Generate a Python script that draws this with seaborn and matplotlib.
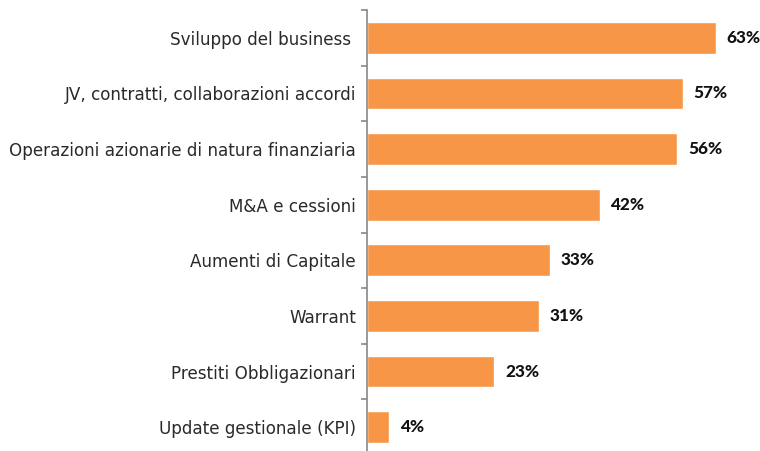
import matplotlib
matplotlib.use("Agg")
import matplotlib.pyplot as plt
import seaborn as sns
import pandas as pd
import numpy as np

categories = [
    "Sviluppo del business ",
    "JV, contratti, collaborazioni accordi",
    "Operazioni azionarie di natura finanziaria",
    "M&A e cessioni",
    "Aumenti di Capitale",
    "Warrant",
    "Prestiti Obbligazionari",
    "Update gestionale (KPI)",
]
values = [63, 57, 56, 42, 33, 31, 23, 4]

df = pd.DataFrame({"cat": categories, "val": values})

sns.set_style("white")
plt.rcParams["font.family"] = ["DejaVu Sans"]

fig = plt.figure(figsize=(7.6, 4.51), dpi=100)
ax = fig.add_axes([367 / 760, (451 - 455) / 451, 388 / 760, 445 / 451])

sns.barplot(data=df, x="val", y="cat", color="#F79646", saturation=1,
            width=0.57, ax=ax, orient="h")

ax.set_xlim(0, 70)
ax.set_ylim(len(categories) - 0.5, -0.5)
ax.set_xlabel("")
ax.set_ylabel("")
ax.set_xticks([])
for s in ["top", "right", "bottom"]:
    ax.spines[s].set_visible(False)
ax.spines["left"].set_color("#888888")
ax.spines["left"].set_linewidth(1.2)

ax.tick_params(axis="y", which="major", left=False, length=0, pad=8,
               labelsize=12.1, labelcolor="#2a2a2a")
ax.set_yticks(np.arange(-0.5, len(categories), 1), minor=True)
ax.tick_params(axis="y", which="minor", left=True, length=4, color="#888888",
               width=1.2, direction="out")

for i, v in enumerate(values):
    ax.text(v + 1.9, i, f"{v}%", va="center", ha="left", fontsize=12.3,
            fontweight="black", color="#111111",
            family=["Lato", "DejaVu Sans"])

fig.savefig("out.png", dpi=100)
